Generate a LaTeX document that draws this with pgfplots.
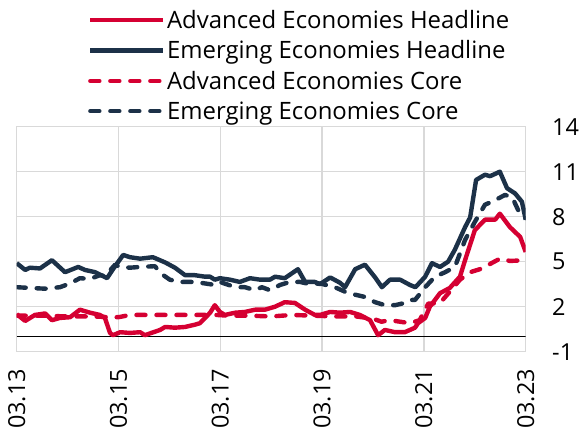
\documentclass[border=0pt]{standalone}
\usepackage{pgfplots}
\pgfplotsset{compat=1.18}
\usepackage{fontspec}
\setmainfont{Open Sans}
\definecolor{cred}{RGB}{213,0,50}
\definecolor{cnavy}{RGB}{28,49,72}
\definecolor{cgrid}{RGB}{217,217,217}
\begin{document}
\begin{tikzpicture}[x=1bp,y=1bp]
\useasboundingbox (0,0) rectangle (583,435);
\begin{axis}[
  at={(16.7bp,83.3bp)}, anchor=south west,
  scale only axis, width=509bp, height=225bp,
  xmin=0, xmax=120, ymin=-1, ymax=14,
  xtick={0,24,48,72,96,120},
  xticklabels={03.13,03.15,03.17,03.19,03.21,03.23},
  ytick={-1,2,5,8,11,14},
  yticklabel pos=right,
  major tick length=0pt,
  grid=major,
  grid style={cgrid, line width=1.3bp},
  axis line style={cgrid, line width=1.3bp},
  /pgf/number format/assume math mode=true,
  tick label style={font=\fontsize{23.5}{27}\selectfont, black},
  yticklabel style={anchor=west, xshift=23bp},
  xticklabel style={yshift=-14bp, rotate=90, anchor=east},
  legend style={draw=none, fill=none, at={(axis description cs:0.14,1.525)}, anchor=north west,
    font=\fontsize{24}{27}\selectfont, row sep=7.8bp, inner sep=0pt,
    nodes={inner sep=1.5bp}},
  legend cell align=left,
  legend image code/.code={\draw[#1] (0bp,0bp) -- (73bp,0bp);},
  every axis plot/.append style={line width=4.4bp, line join=round},
  dashed style/.style={dash pattern=on 9bp off 11bp, line cap=round},
]
\draw[black, line width=1bp] (axis cs:0,0) -- (axis cs:120,0);
\addplot[cred, no markers] coordinates {
(0,1.5) (2,1.05) (4.3,1.45) (6.7,1.55) (8.3,1.1) (10.2,1.25) (12.6,1.3) (14.9,1.8) (17.3,1.6) (19.6,1.45) (20.8,1.25) (22,0.25) (22.7,0.1) (24.4,0.3) (26.7,0.25) (29.1,0.3) (30.2,0.1) (33.8,0.45) (35,0.65) (37.3,0.6) (39.7,0.65) (42,0.8) (43.2,0.9) (44.4,1.25) (45.6,1.6) (46.7,2.1) (47.9,1.65) (49.1,1.45) (51.5,1.6) (53.8,1.65) (56.2,1.8) (58.5,1.8) (60.9,2.0) (63.2,2.3) (65.6,2.25) (68,1.8) (70.3,1.45) (71.5,1.45) (73.9,1.65) (76.2,1.6) (78.6,1.65) (80.9,1.45) (83.3,1.1) (85.2,0.1) (86.8,0.45) (89.2,0.3) (91.5,0.3) (93.9,0.6) (94.6,0.9) (96.3,1.25) (97.4,2.0) (99.8,2.9) (102.1,3.25) (104.5,4.0) (105.7,5.1) (108,7.1) (110.4,7.8) (112.8,7.8) (113.9,8.2) (116.3,7.3) (118.7,6.65) (120,5.65)
};
\addlegendentry{Advanced Economies Headline}
\addplot[cnavy, no markers] coordinates {
(0,4.9) (2,4.45) (3.1,4.6) (5.5,4.55) (8.3,5.1) (11.4,4.3) (14.5,4.65) (16.1,4.45) (18.5,4.3) (21.3,3.9) (22.7,4.5) (25.1,5.45) (26.7,5.3) (29.1,5.2) (32.1,5.3) (35,4.95) (37.3,4.6) (39.7,4.1) (42,4.1) (44.4,4.0) (45.6,4.0) (46.7,3.8) (47.9,3.9) (50.3,3.8) (52.6,3.65) (55,3.9) (57.4,3.8) (59.7,3.8) (60.9,4.0) (63.2,3.9) (66.3,4.5) (68,3.65) (70.3,3.65) (71.5,3.5) (73.9,3.95) (76.2,3.6) (77.4,3.3) (79.8,4.5) (82.1,4.8) (84.5,3.95) (86.1,3.3) (88,3.8) (90.4,3.8) (92.7,3.45) (94,3.3) (96.3,4.0) (97.9,4.9) (99.8,4.65) (101.7,5.0) (103.3,5.8) (105.7,7.3) (106.9,7.95) (108.3,10.45) (110.4,10.8) (111.6,10.7) (113.9,11.0) (115.6,9.9) (117.5,9.55) (119.1,9.0) (120,7.8)
};
\addlegendentry{Emerging Economies Headline}
\addplot[cred, no markers, dashed style] coordinates {
(0,1.4) (6,1.4) (12,1.35) (18,1.35) (22,1.3) (24,1.3) (26.7,1.45) (32,1.45) (38,1.45) (44,1.45) (47,1.45) (50,1.4) (55,1.4) (60,1.35) (65,1.45) (70,1.4) (75,1.35) (80,1.35) (84,1.2) (86,1.0) (88,1.1) (92.7,0.9) (95,1.1) (97,2.2) (99.8,2.25) (102.1,3.0) (104.5,3.8) (106.9,4.3) (109.2,4.5) (111.6,4.85) (113.9,5.2) (116.3,5.05) (120,5.1)
};
\addlegendentry{Advanced Economies Core}
\addplot[cnavy, no markers, dashed style] coordinates {
(0,3.3) (3.1,3.25) (6.7,3.2) (10.2,3.3) (12.6,3.55) (14.9,3.9) (17.3,3.85) (19.6,4.1) (20.8,4.05) (23.2,4.8) (24.4,4.65) (26.7,4.6) (29.1,4.65) (32.6,4.7) (33.8,4.25) (36.1,3.8) (38.5,3.65) (42,3.65) (44.4,3.55) (46.7,3.45) (47.9,3.65) (51.5,3.3) (53.8,3.3) (56.2,3.1) (57.8,3.3) (59.7,3.1) (62.1,3.45) (64.4,3.65) (66.8,3.65) (69.1,3.5) (71.5,3.55) (75,3.3) (77.4,3.0) (79.8,2.8) (82.1,2.65) (84.5,2.3) (86.8,2.1) (89.2,2.1) (91.5,2.25) (92.7,2.45) (93.9,2.45) (96.3,3.3) (98.6,4.0) (101,4.3) (103.3,4.65) (105.7,6.45) (108,7.65) (110.4,8.8) (112.8,9.1) (115.1,9.45) (116.8,9.3) (118.2,8.45) (120,7.9)
};
\addlegendentry{Emerging Economies Core}
\end{axis}
\end{tikzpicture}
\end{document}
